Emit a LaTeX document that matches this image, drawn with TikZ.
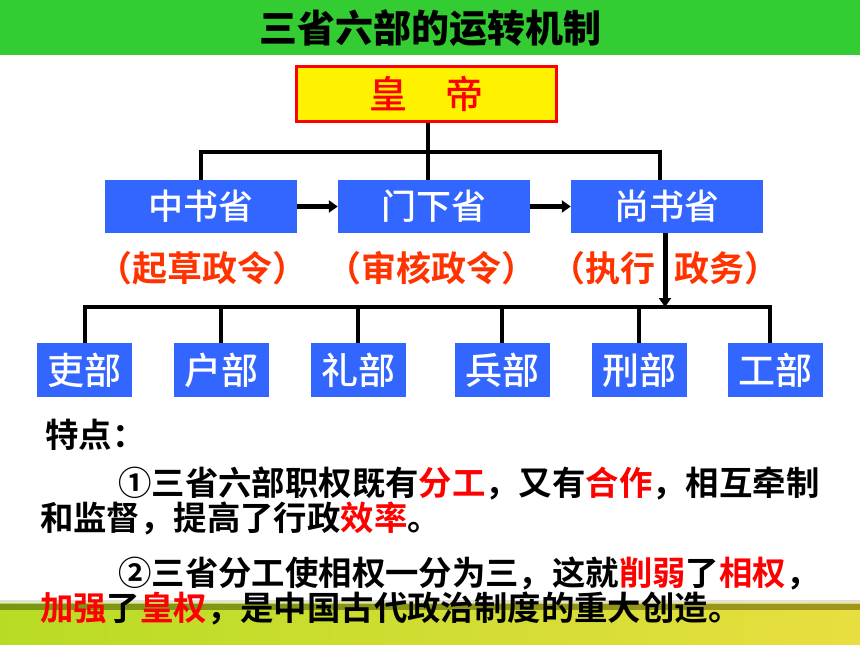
\documentclass[tikz,border=0pt]{standalone}
\usepackage{fontspec}
\setmainfont{Noto Sans CJK SC}[BoldFont=Noto Sans CJK SC Bold]
\newfontfamily\cjkmed{Noto Sans CJK SC Medium}
\newfontfamily\cjkblack{Noto Sans CJK SC Black}
\usetikzlibrary{arrows.meta}
\definecolor{titlegreen}{RGB}{51,204,51}
\definecolor{boxblue}{RGB}{51,102,255}
\definecolor{lblred}{RGB}{255,51,0}
\definecolor{hired}{RGB}{255,0,0}
\definecolor{bandL}{RGB}{184,220,36}
\definecolor{bandR}{RGB}{232,222,64}
\definecolor{oliveL}{RGB}{120,150,20}
\definecolor{oliveR}{RGB}{160,150,30}
\tikzset{
  shengbox/.style={draw=none,fill=boxblue,text=white,minimum width=192pt,minimum height=53pt,inner sep=0pt,font=\cjkmed\fontsize{35}{37}\selectfont},
  bubox/.style={draw=none,fill=boxblue,text=white,minimum width=95pt,minimum height=54pt,inner sep=0pt,font=\cjkmed\fontsize{37}{39}\selectfont},
  conn/.style={line width=4pt,black},
  arr/.style={line width=5pt,black,-{Triangle[length=9pt,width=12pt]}},
  lbl/.style={text=lblred,font=\bfseries\fontsize{35}{37}\selectfont,anchor=base,inner sep=0pt},
  body/.style={font=\bfseries\fontsize{33.4}{35}\selectfont,anchor=base west,inner sep=0pt}
}
\newcommand{\hl}[1]{\textcolor{hired}{#1}}
\begin{document}
\begin{tikzpicture}[x=1pt,y=-1pt]
\useasboundingbox (0,0) rectangle (860,645);
\fill[white] (0,0) rectangle (860,645);
% title bar
\fill[titlegreen] (0,0) rectangle (860,55);
\node[font=\cjkblack\fontsize{38}{40}\selectfont,anchor=base,inner sep=0pt] (title) at (430,42) {三省六部的运转机制};
% bottom band
\fill[black!12] (0,600) rectangle (860,604);
\shade[left color=bandL,right color=bandR] (0,603) rectangle (860,645);
\shade[left color=oliveL,right color=oliveR] (0,604) rectangle (860,609);
% emperor
\node[draw=hired,line width=3pt,fill=yellow,text=hired,minimum width=260pt,minimum height=55pt,inner sep=0pt,font=\cjkmed\fontsize{38}{40}\selectfont] (emp) at (426,93.5) {皇\hspace{1em}帝};
% three departments
\node[shengbox] (zs) at (201,206.5) {中书省};
\node[shengbox] (mx) at (434,206.5) {门下省};
\node[shengbox] (ss) at (667,206.5) {尚书省};
\coordinate (b1) at (428,152);
\draw[conn] (emp.south -| b1) -- (mx.north -| b1);
\draw[conn] (zs.north) |- (b1);
\draw[conn] (b1) -| (ss.north -| 660,0);
\draw[arr] (zs.east) -- (mx.west);
\draw[arr] (mx.east) -- (ss.west);
% labels
\node[lbl] (l1) at (202,281) {（起草政令）};
\node[lbl] (l2) at (431,281) {（审核政令）};
\node[lbl] (l3) at (665,281) {（执行\hspace{0.55em}政务）};
% six ministries
\node[bubox] (lb) at (84.5,370) {吏部};
\node[bubox] (hb) at (221,370) {户部};
\node[bubox] (lib) at (358,370) {礼部};
\node[bubox] (bb) at (502,370) {兵部};
\node[bubox] (xb) at (639,370) {刑部};
\node[bubox] (gb) at (775,370) {工部};
\coordinate (b2) at (665,307);
\draw[conn] (lb.north) |- (b2);
\draw[conn] (b2) -| (gb.north -| 770,0);
\foreach \n in {hb,lib,bb,xb} \draw[conn] (\n.north) -- (\n.north |- b2);
\draw[arr] (ss.south -| b2) -- (b2);
% text
\node[body] (t0) at (45,447) {特点：};
\node[body] (t1) at (118,495) {①三省六部职权既有\hl{分工}，又有\hl{合作}，相互牵制};
\node[body] (t2) at (40,530) {和监督，提高了行政\hl{效率}。};
\node[body] (t3) at (118,585) {②三省分工使相权一分为三，这就\hl{削弱}了\hl{相权}，};
\node[body] (t4) at (40,620) {\hl{加强}了\hl{皇权}，是中国古代政治制度的重大创造。};
\end{tikzpicture}
\end{document}
